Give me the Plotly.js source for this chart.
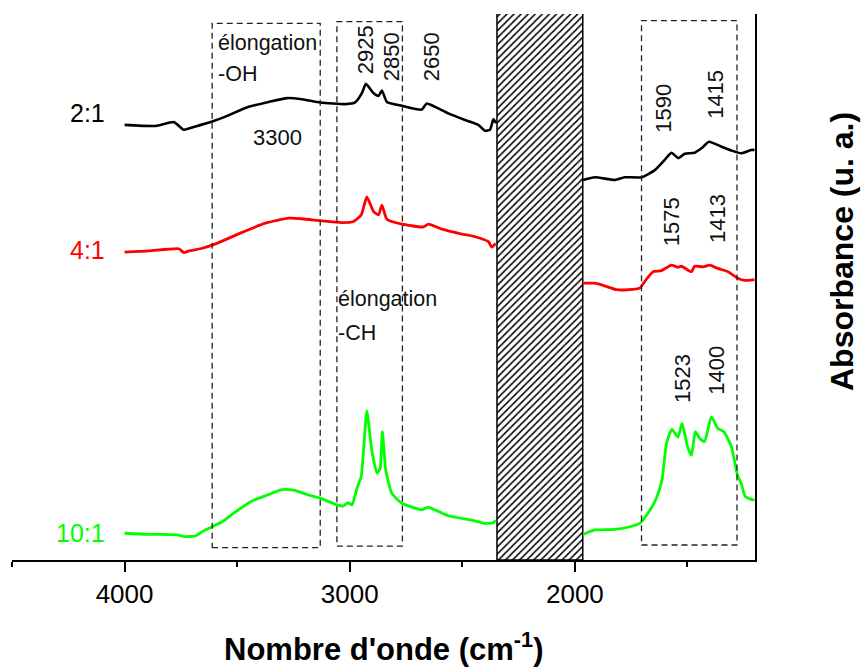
<!DOCTYPE html>
<html>
<head>
<meta charset="utf-8">
<script src="https://cdn.plot.ly/plotly-3.0.1.min.js"></script>
<style>html,body{margin:0;padding:0;background:#fff;}#chart{width:861px;height:669px;}</style>
</head>
<body>
<div id="chart"></div>
<script>
// Wavenumbers (cm-1) and absorbance (arbitrary, offset). null = gap (masked region)
var wn21 = [4000,3862,3781,3737,3685,3611,3552,3449,3360,3278,3212,3131,3020,2976,2946,2928,2894,2872,2857,2835,2768,2680,2658,2621,2562,2488,2429,2399,2377,2362,2350,null,
            1963,1911,1823,1778,1704,1645,1601,1571,1541,1512,1468,1438,1404,1349,1305,1261,1216,1202];
var abs21 = [79.7,79.5,80.2,78.8,79.4,80.3,81.2,83.0,83.9,84.6,84.4,83.8,83.5,83.8,85.5,87.2,85.5,85.0,86.0,83.9,83.2,82.5,83.6,83.0,81.8,80.6,79.7,78.6,78.8,80.7,80.0,null,
             69.6,70.1,69.6,70.1,70.1,71.4,73.3,74.6,73.6,74.4,74.6,75.4,76.6,75.7,75.0,74.5,75.1,75.1];

var wn41 = [4000,3892,3759,3737,3715,3655,3596,3478,3375,3271,3212,3123,3035,2983,2949,2924,2894,2872,2857,2835,2768,2673,2651,2591,2502,2443,2384,2369,2352,null,
            1963,1911,1867,1815,1764,1712,1690,1653,1616,1571,1542,1527,1482,1468,1431,1401,1365,1320,1276,1246,1209,1202];
var abs41 = [56.4,56.6,57.0,56.3,56.6,57.1,57.9,60.0,61.7,62.6,62.5,62.1,61.8,62.0,63.2,66.5,63.8,63.2,65.0,62.4,61.5,61.0,61.5,60.6,59.7,59.2,58.3,57.3,58.0,null,
             50.7,50.7,50.2,49.5,49.5,49.8,51.0,52.8,53.0,54.0,53.6,53.8,52.8,53.8,53.7,54.0,53.4,52.8,51.6,51.2,51.3,51.3];

var wn101 = [4000,3892,3766,3737,3685,3655,3611,3567,3508,3434,3360,3301,3249,3183,3123,3057,3028,3008,2990,2968,2949,2924,2902,2879,2865,2855,2840,2813,2768,2680,2653,2562,2458,2399,2362,2352,null,
             1963,1911,1823,1764,1712,1675,1638,1613,1593,1569,1542,1524,1498,1482,1465,1446,1424,1394,1365,1338,1305,1278,1261,1243,1209,1202];
var abs101 = [4.9,4.7,4.6,4.3,4.4,5.2,6.1,7.0,8.8,10.8,12.0,12.9,12.8,11.9,11.2,10.1,9.9,10.5,10.1,13.1,15.3,27.3,20.1,15.9,16.8,23.5,16.5,12.2,10.4,9.2,9.7,8.1,7.3,6.7,6.8,7.3,null,
              4.7,5.5,5.6,6.0,6.7,8.6,11.3,14.7,21.4,23.9,22.5,25.0,20.5,19.2,23.5,22.3,21.7,26.2,24.1,23.5,20.8,15.6,14.0,11.6,11.0,11.0];

var seriesNames = ['2:1','4:1','10:1'];
var seriesColors = ['#000000','#ff0000','#00ff00'];

// masked (hatched) region and dashed assignment boxes [from, to] in cm-1
var maskRange = [2346, 1965];
var boxOH = [3611, 3131];
var boxCH = [3057, 2766];
var boxCOO = [1704, 1280];

var tickVals = [4000, 3000, 2000];
var peakLabels = ['2925','2850','2650','1590','1415','1575','1413','1523','1400'];
var peakPos = [2931, 2816, 2639, 1605, 1375, 1570, 1370, 1525, 1370];
var peakY = [93.4, 92.1, 92.1, 82.8, 85.3, 62.0, 62.6, 33.3, 34.8];

var FONT = 'Liberation Sans, Arial, sans-serif';

var traces = [
  {type:'bar', x:[(maskRange[0]+maskRange[1])/2], y:[100.4], base:0, width:[maskRange[0]-maskRange[1]],
   cliponaxis:false, hoverinfo:'skip',
   marker:{color:'#ffffff', line:{color:'#000', width:1.5},
     pattern:{shape:'/', size:5, solidity:0.3, fgcolor:'#000', bgcolor:'#fff', fillmode:'replace'}}},
  {type:'scatter', mode:'lines', x:wn21, y:abs21, name:seriesNames[0], connectgaps:false,
   line:{color:seriesColors[0], width:2.6, shape:'spline', smoothing:0.5}},
  {type:'scatter', mode:'lines', x:wn41, y:abs41, name:seriesNames[1], connectgaps:false,
   line:{color:seriesColors[1], width:2.8, shape:'spline', smoothing:0.5}},
  {type:'scatter', mode:'lines', x:wn101, y:abs101, name:seriesNames[2], connectgaps:false,
   line:{color:seriesColors[2], width:2.8, shape:'spline', smoothing:0.5}}
];

var dashLine = {color:'#222', width:1.3, dash:'6px,4px'};
var shapes = [
  {type:'rect', xref:'x', yref:'y', x0:boxOH[0], x1:boxOH[1], y0:2.25, y1:98.3, line:dashLine},
  {type:'rect', xref:'x', yref:'y', x0:boxCH[0], x1:boxCH[1], y0:2.55, y1:98.6, line:dashLine},
  {type:'rect', xref:'x', yref:'y', x0:boxCOO[0], x1:boxCOO[1], y0:2.75, y1:98.8, line:dashLine}
];

var annotations = [
  {x:4164, y:81.9, text:seriesNames[0], font:{size:25, color:seriesColors[0], family:FONT}},
  {x:4164, y:56.8, text:seriesNames[1], font:{size:25, color:seriesColors[1], family:FONT}},
  {x:4195, y:4.9, text:seriesNames[2], font:{size:25, color:seriesColors[2], family:FONT}},
  {x:3592, y:94.7, text:'élongation', xanchor:'left', font:{size:21.5, color:'#111', family:FONT}},
  {x:3592, y:89.0, text:'-OH', xanchor:'left', font:{size:21.5, color:'#111', family:FONT}},
  {x:3321, y:77.3, text:'3300', font:{size:22, color:'#111', family:FONT}},
  {x:3062, y:47.8, text:'élongation', xanchor:'left', font:{size:21.5, color:'#111', family:FONT}},
  {x:3062, y:41.6, text:'-CH', xanchor:'left', font:{size:21.5, color:'#111', family:FONT}},
  {xref:'paper', yref:'paper', x:(383-12)/743, y:(560-669)/546, yanchor:'bottom', text:"<b>Nombre d'onde (cm<sup>-1</sup>)</b>",
   font:{size:31, color:'#000', family:FONT}},
  {xref:'paper', yref:'paper', x:(862-12)/743, y:(560-252)/546, text:'<b>Absorbance (u. a.)</b>', textangle:-90,
   font:{size:32, color:'#000', family:FONT}}
];
for (var i = 0; i < peakLabels.length; i++) {
  annotations.push({x:peakPos[i], y:peakY[i], text:peakLabels[i], textangle:-90,
    font:{size:22, color:'#111', family:FONT}});
}
annotations.forEach(function(a){ a.showarrow = false; if(!a.xref){a.xref='x'; a.yref='y';} });

var layout = {
  width:861, height:669,
  margin:{l:12, r:106, t:14, b:109, pad:0},
  paper_bgcolor:'#fff', plot_bgcolor:'#fff',
  showlegend:false,
  font:{family:FONT, color:'#000'},
  xaxis:{range:[4500,1200], tickvals:tickVals, ticks:'outside', ticklen:10, tickwidth:2, tickcolor:'#000',
    showline:true, linewidth:2, linecolor:'#000', showgrid:false, zeroline:false, mirror:false,
    tickfont:{size:26, family:FONT, color:'#000'},
    minor:{dtick:500, tick0:0, ticks:'outside', ticklen:5, tickwidth:2, tickcolor:'#000', showgrid:false}},
  yaxis:{range:[0,100], side:'right', showline:true, linewidth:2, linecolor:'#000', ticks:'',
    showticklabels:false, showgrid:false, zeroline:false},
  shapes:shapes,
  annotations:annotations,
  bargap:0
};

Plotly.newPlot('chart', traces, layout, {displayModeBar:false, staticPlot:true});
</script>
</body>
</html>
